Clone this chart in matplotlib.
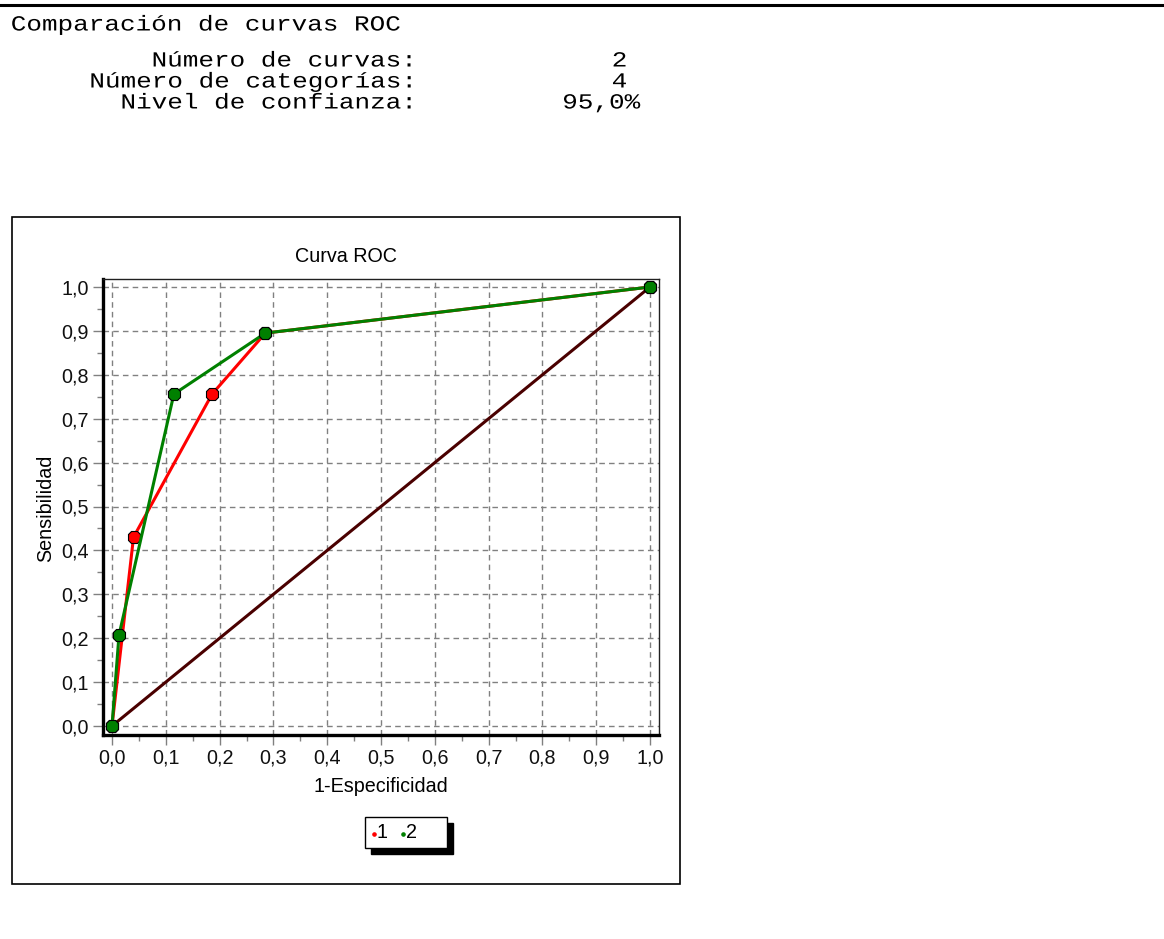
import matplotlib
matplotlib.use("Agg")
import matplotlib.pyplot as plt
from matplotlib.patches import Rectangle
from matplotlib.lines import Line2D
from matplotlib.ticker import MultipleLocator, FuncFormatter
from matplotlib.patheffects import AbstractPathEffect
from matplotlib.transforms import Affine2D

# ---- data ----
curve1_x = [0.0, 0.04, 0.186, 0.285, 1.0]
curve1_y = [0.0, 0.43, 0.756, 0.895, 1.0]
curve2_x = [0.0, 0.013, 0.115, 0.285, 1.0]
curve2_y = [0.0, 0.207, 0.756, 0.895, 1.0]
diag = [0.0, 1.0]
series_names = ["1", "2"]
header_labels = ["Número de curvas:", "Número de categorías:", "Nivel de confianza:"]
header_values = ["2", "4", "95,0%"]
title_text = "Comparación de curvas ROC"

W, H = 1164, 939
fig = plt.figure(figsize=(W / 100, H / 100), dpi=100)


def fx(px):
    return px / W


def fy(py):
    return 1 - py / H


class HStretch(AbstractPathEffect):
    """Draw text widened horizontally about its left / right edge."""

    def __init__(self, sx, mode="left"):
        super().__init__()
        self.sx = sx
        self.mode = mode

    def draw_path(self, renderer, gc, tpath, affine, rgbFace=None):
        ext = tpath.get_extents(affine)
        xa = ext.x0 if self.mode == "left" else ext.x1
        aff = affine + Affine2D().translate(-xa, 0).scale(self.sx, 1).translate(xa, 0)
        renderer.draw_path(gc, tpath, aff, rgbFace)


mono = "Liberation Mono"
sans = "Liberation Sans"
MFS = 15.5
SX = 15.6 / (0.6 * MFS * 100 / 72)
SFS = 14.2

# top line
fig.add_artist(Line2D([0, 1], [fy(5), fy(5)], color="black", lw=2.2, transform=fig.transFigure))

fig.text(fx(11), fy(25), title_text, family=mono, fontsize=MFS, va="center", ha="left",
         path_effects=[HStretch(SX, "left")])
ys = [61, 82, 103]
for lab, y in zip(header_labels, ys):
    fig.text(fx(415), fy(y), lab, family=mono, fontsize=MFS, va="center", ha="right",
             path_effects=[HStretch(SX, "right")])
for val, y in zip(header_values, ys):
    xr = 640 if val.endswith("%") else 627
    fig.text(fx(xr), fy(y), val, family=mono, fontsize=MFS, va="center", ha="right",
             path_effects=[HStretch(SX, "right")])

# chart box
fig.add_artist(Rectangle((fx(12), fy(884)), fx(668), 667 / H, fill=False,
                         edgecolor="black", lw=1.2, transform=fig.transFigure))

# axes
L, T, R, B = 103, 279, 659, 735
ax = fig.add_axes([fx(L), fy(B), fx(R - L), (B - T) / H])
x0, x1 = 112, 650
y0, y1 = 726, 287
sx = (x1 - x0)
sy = (y0 - y1)
ax.set_xlim(-(x0 - L) / sx, 1 + (R - x1) / sx)
ax.set_ylim(-(B - y0) / sy, 1 + (y1 - T) / sy)

ax.xaxis.set_major_locator(MultipleLocator(0.1))
ax.yaxis.set_major_locator(MultipleLocator(0.1))
ax.xaxis.set_minor_locator(MultipleLocator(0.05))
ax.yaxis.set_minor_locator(MultipleLocator(0.05))
fmt = FuncFormatter(lambda v, p: f"{v:.1f}".replace(".", ","))
ax.xaxis.set_major_formatter(fmt)
ax.yaxis.set_major_formatter(fmt)
ax.tick_params(which="major", direction="out", length=7, width=1, color="#808080",
               labelsize=SFS, pad=3)
ax.tick_params(which="minor", direction="out", length=4, width=1, color="#808080")
for lbl in ax.get_xticklabels() + ax.get_yticklabels():
    lbl.set_family(sans)
    lbl.set_color("#101010")

ax.grid(True, which="major", color="#808080", linestyle=(0, (4, 3)), lw=1)
for s in ["left", "bottom"]:
    ax.spines[s].set_linewidth(2.4)
    ax.spines[s].set_color("black")
for s in ["top", "right"]:
    ax.spines[s].set_linewidth(1.0)
    ax.spines[s].set_color("#202020")

ax.plot(diag, diag, color="#4a0000", lw=2.2, zorder=3)
ax.plot(curve1_x, curve1_y, color="#ff0000", lw=2.2, marker="8", ms=9.5,
        mfc="#ff0000", mec="black", mew=0.8, zorder=4)
ax.plot(curve2_x, curve2_y, color="#008000", lw=2.2, marker="8", ms=9.5,
        mfc="#008000", mec="black", mew=0.8, zorder=5)

fig.text(fx(346), fy(257), "Curva ROC", family=sans, fontsize=SFS, ha="center", va="center")
fig.text(fx(381), fy(786), "1-Especificidad", family=sans, fontsize=SFS, ha="center", va="center")
fig.text(fx(46), fy(508), "Sensibilidad", family=sans, fontsize=SFS, ha="center", va="center",
         rotation=90)

# legend (manual)
fig.add_artist(Rectangle((fx(371), fy(854)), fx(82), 31 / H, facecolor="black",
                         edgecolor="black", transform=fig.transFigure))
fig.add_artist(Rectangle((fx(365), fy(848)), fx(82), 31 / H, facecolor="white",
                         edgecolor="black", lw=1, transform=fig.transFigure))
fig.add_artist(Line2D([fx(374)], [fy(834)], marker="o", ms=2.3, color="#ff0000",
                      transform=fig.transFigure))
fig.text(fx(377), fy(833), series_names[0], family=sans, fontsize=SFS, va="center", ha="left")
fig.add_artist(Line2D([fx(403)], [fy(834)], marker="o", ms=2.3, color="#008000",
                      transform=fig.transFigure))
fig.text(fx(406), fy(833), series_names[1], family=sans, fontsize=SFS, va="center", ha="left")

fig.savefig("out.png", dpi=100)
